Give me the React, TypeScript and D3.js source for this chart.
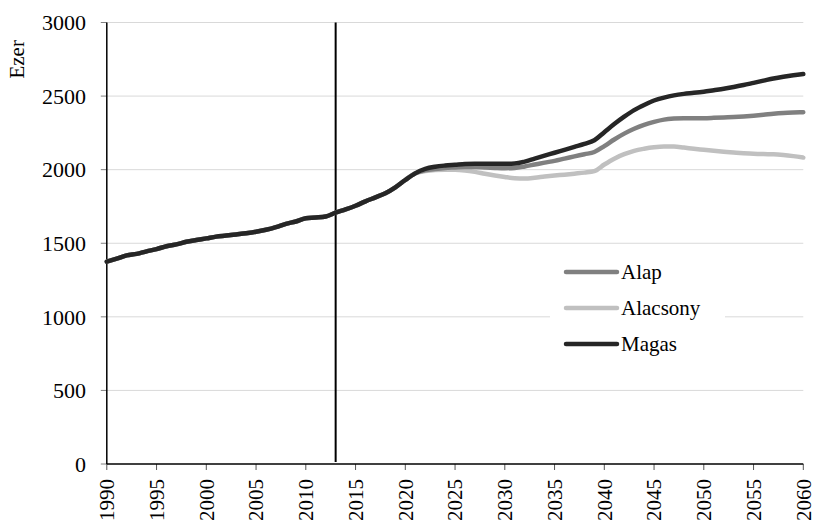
import React from "react";
import * as d3 from "d3";

// years 1990..2060
const years: number[] = d3.range(1990, 2061);

// common history 1990-2021
const history: number[] = [
  1375, 1395, 1418, 1428, 1445, 1460, 1480, 1492, 1510, 1522,
  1533, 1545, 1552, 1560, 1568, 1578, 1592, 1610, 1632, 1648,
  1670, 1675, 1682, 1708, 1730, 1755, 1785, 1812, 1840, 1880,
  1930, 1975,
];

// projections 2022-2060
const alapProj: number[] = [
  1995, 2005, 2012, 2015, 2018, 2018, 2015, 2012, 2010, 2012,
  2022, 2035, 2048, 2060, 2075, 2090, 2105, 2120, 2160, 2205,
  2245, 2278, 2305, 2325, 2340, 2347, 2350, 2350, 2350, 2352,
  2355, 2358, 2362, 2367, 2373, 2380, 2385, 2388, 2390,
];
const alacsonyProj: number[] = [
  1990, 1998, 2000, 2000, 1995, 1985, 1972, 1960, 1950, 1942,
  1940, 1945, 1953, 1960, 1966, 1973, 1980, 1990, 2035, 2075,
  2105, 2128, 2142, 2152, 2157, 2157, 2150, 2142, 2135, 2128,
  2122, 2117, 2112, 2108, 2106, 2105, 2100, 2092, 2082,
];
const magasProj: number[] = [
  2005, 2020, 2028, 2033, 2038, 2040, 2040, 2040, 2040, 2042,
  2055, 2075, 2095, 2115, 2135, 2155, 2175, 2200, 2255, 2310,
  2360, 2405, 2440, 2470, 2490, 2505, 2515, 2522, 2530, 2540,
  2550, 2562, 2575, 2590, 2605, 2620, 2632, 2642, 2650,
];

const seriesNames = ["Alap", "Alacsony", "Magas"];
const seriesColors = ["#808080", "#c0c0c0", "#262626"];
const seriesValues = [
  history.concat(alapProj),
  history.concat(alacsonyProj),
  history.concat(magasProj),
];
const drawOrder = [1, 0, 2];

const yTicks = [0, 500, 1000, 1500, 2000, 2500, 3000];
const xTicks = d3.range(1990, 2061, 5);
const markerYear = 2013;
const yLabel = "Ezer";

const font = "Liberation Serif, Times New Roman, serif";

export default function App() {
  const x = d3.scaleLinear().domain([1990, 2060]).range([106.8, 803.3]);
  const y = d3.scaleLinear().domain([0, 3000]).range([464, 22.5]);
  const line = d3
    .line<number>()
    .x((_, i) => x(years[i]))
    .y((d) => y(d))
    .curve(d3.curveMonotoneX);

  return (
    <svg
      width={814}
      height={524}
      style={{ position: "absolute", left: 0, top: 0, background: "#fff", fontFamily: font }}
    >
      {yTicks.map((t) => (
        <g key={t}>
          {t > 0 && (
            <line x1={x(1990)} x2={x(2060)} y1={y(t)} y2={y(t)} stroke="#d9d9d9" strokeWidth={1} />
          )}
          <line x1={x(1990) - 6} x2={x(1990)} y1={y(t)} y2={y(t)} stroke="#808080" strokeWidth={1} />
          <text x={86} y={y(t)} dy="0.35em" textAnchor="end" fontSize={22} fill="#000">
            {t}
          </text>
        </g>
      ))}
      <text
        transform={`translate(24,${y(2750)}) rotate(-90)`}
        textAnchor="middle"
        fontSize={21}
        fill="#000"
      >
        {yLabel}
      </text>
      {xTicks.map((t) => (
        <g key={t}>
          <line x1={x(t)} x2={x(t)} y1={y(0)} y2={y(0) + 6} stroke="#555" strokeWidth={1} />
          <text
            transform={`translate(${x(t)},${y(0) + 15}) rotate(-90)`}
            textAnchor="end"
            dy="0.35em"
            fontSize={21}
            fill="#000"
          >
            {t}
          </text>
        </g>
      ))}
      <line x1={x(1990)} x2={x(1990)} y1={y(3000)} y2={y(0)} stroke="#000" strokeWidth={1.5} />
      <line x1={x(1990)} x2={x(2060)} y1={y(0)} y2={y(0)} stroke="#000" strokeWidth={1.5} />
      <line x1={x(markerYear)} x2={x(markerYear)} y1={y(3000)} y2={y(0) - 2} stroke="#000" strokeWidth={2} />

      {drawOrder.map((i) => (
        <path
          key={seriesNames[i]}
          d={line(seriesValues[i]) || ""}
          fill="none"
          stroke={seriesColors[i]}
          strokeWidth={4.5}
          strokeLinejoin="round"
          strokeLinecap="round"
        />
      ))}

      <rect x={550} y={252} width={175} height={108} fill="#fff" />
      {seriesNames.map((name, i) => {
        const ly = 272 + i * 36;
        return (
          <g key={name}>
            <line x1={566} x2={617} y1={ly} y2={ly} stroke={seriesColors[i]} strokeWidth={4.5} strokeLinecap="round" />
            <text x={621} y={ly} dy="0.35em" fontSize={21} fill="#000">
              {name}
            </text>
          </g>
        );
      })}
    </svg>
  );
}
